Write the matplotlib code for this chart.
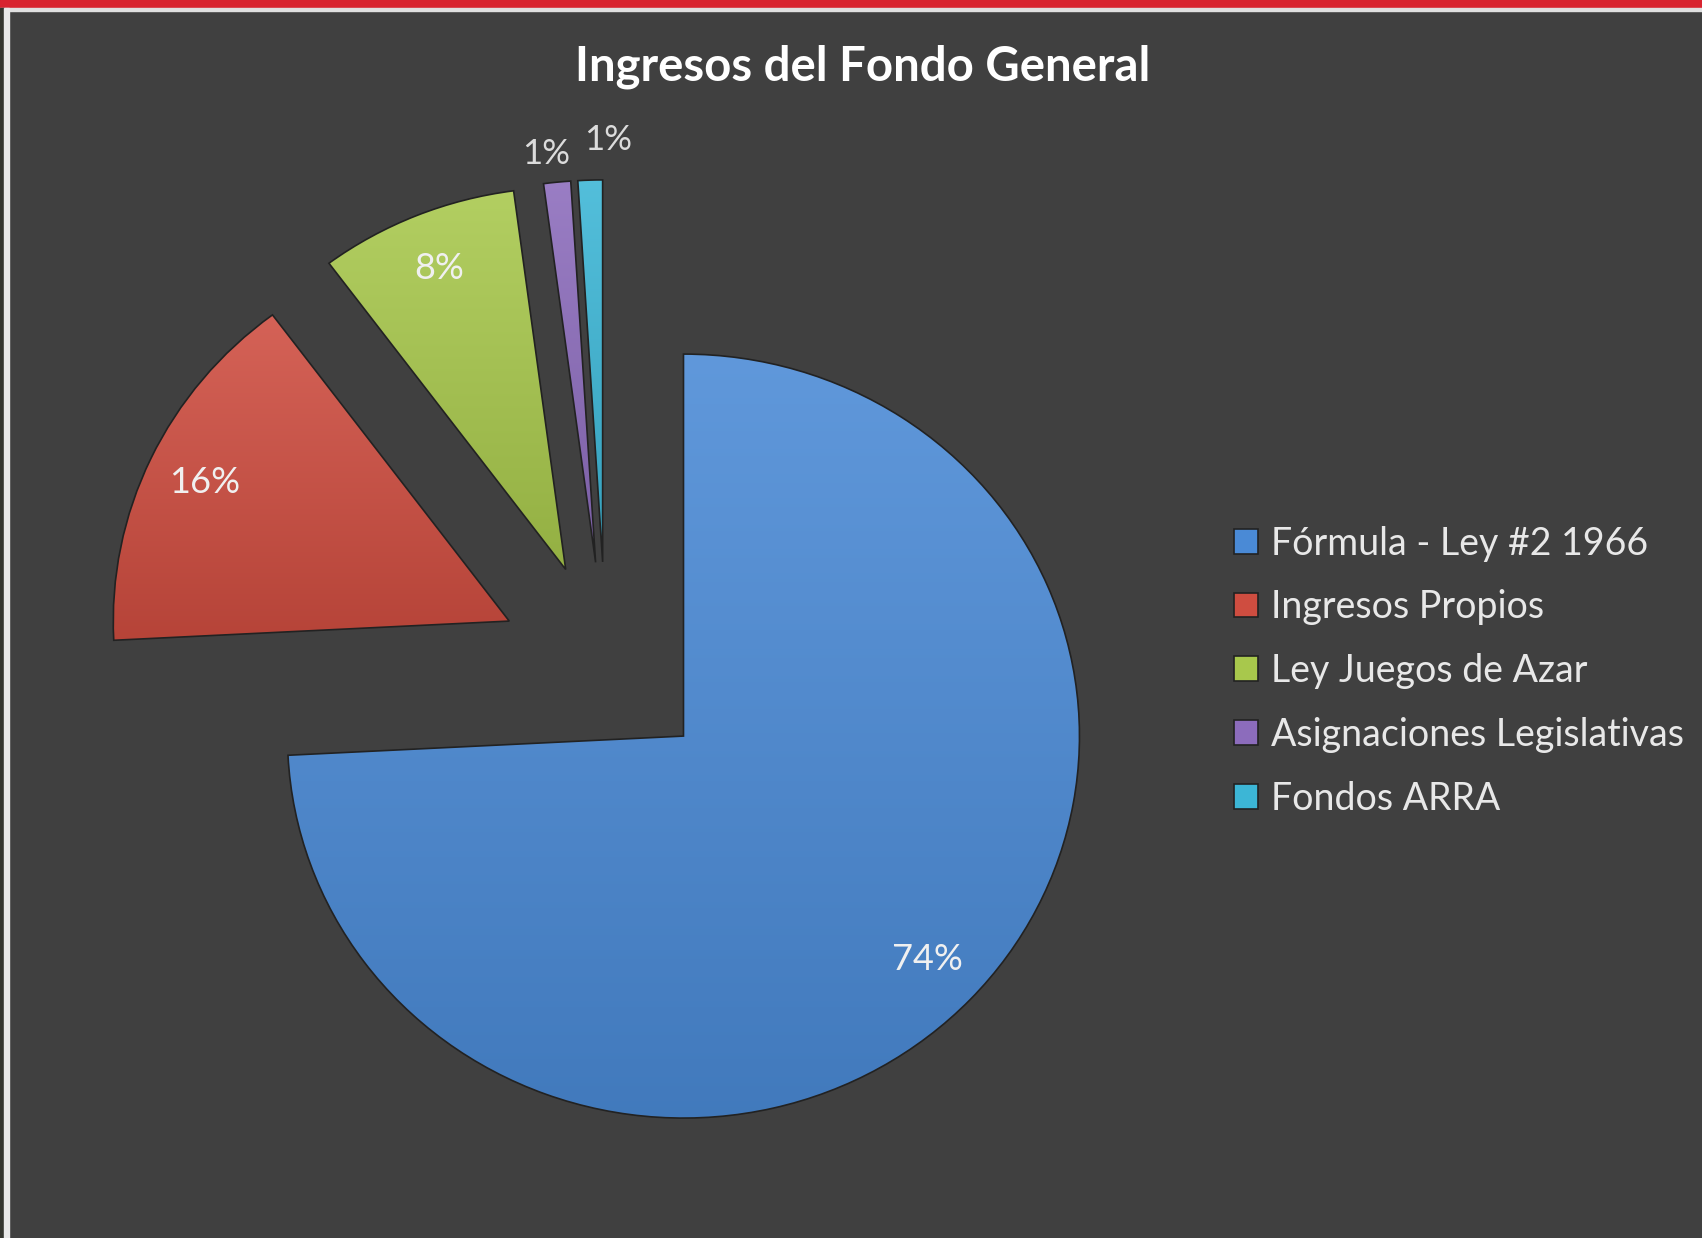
import numpy as np
import matplotlib.pyplot as plt
from matplotlib.colors import to_rgb
from matplotlib.patches import Rectangle

# data (percent of general fund revenue)
categories = ["Fórmula - Ley #2 1966", "Ingresos Propios", "Ley Juegos de Azar",
              "Asignaciones Legislativas", "Fondos ARRA"]
shares = [74.2, 15.6, 8.1, 1.1, 1.0]
colors = ["#4a8ad6", "#cf4d40", "#a8c84c", "#8c6cbc", "#3cb6d6"]
title = "Ingresos del Fondo General"

bg = "#404040"
txt = "#f0f0f0"
plt.rcParams['font.family'] = ['Lato', 'DejaVu Sans']

W, H = 1702, 1238
fig = plt.figure(figsize=(W / 100, H / 100), dpi=100, facecolor=bg)

# pie centre and radii in pixels (the original is slightly wider than tall)
cx, cy, rx, ry = 606, 665, 396, 382
ax = fig.add_axes([0, 0, 1, 1])
ax.set_facecolor("none")

wedges, texts, autotexts = ax.pie(
    shares, colors=colors, startangle=90, counterclock=False,
    explode=[0.27] * len(shares), autopct="%1.0f%%", pctdistance=0.85,
    wedgeprops=dict(edgecolor="#222222", linewidth=1.2),
    textprops=dict(color=txt, fontsize=26))

leg = fig.legend(wedges, categories, loc="center left",
                 bbox_to_anchor=(1200 / W, 1 - 671 / H), frameon=False,
                 fontsize=27, labelcolor="#e8e8e8", handlelength=0.64,
                 handleheight=0.64, handletextpad=0.35, labelspacing=0.74)

# soft vertical shading inside every slice; wedge keeps only its outline on top
for w, c in zip(wedges, colors):
    verts = w.get_path().vertices
    x0, y0 = verts.min(axis=0)
    x1, y1 = verts.max(axis=0)
    base = np.array(to_rgb(c))
    top = base + (1 - base) * 0.12
    bot = base * 0.88
    t = np.linspace(0, 1, 256)[:, None]
    grad = (top * (1 - t) + bot * t)[:, None, :]
    im = ax.imshow(grad, extent=(x0, x1, y0, y1), origin="upper",
                   aspect="auto", zorder=1.5)
    im.set_clip_path(w)
    w.set_facecolor("none")
    w.set_zorder(2)

# small slices get their label outside, split left / right
small = [i for i, w in enumerate(wedges) if w.theta2 - w.theta1 < 10]
for k, i in enumerate(small):
    w, t = wedges[i], autotexts[i]
    x0, y0 = w.center
    if k == 0:
        a, d, ha, dx = np.deg2rad(w.theta1), 1.03, "right", 0.0
    else:
        a, d, ha, dx = np.deg2rad(w.theta2), 1.065, "left", 0.02
    t.set_position((x0 + d * np.cos(a) + dx, y0 + d * np.sin(a)))
    t.set_ha(ha)
    t.set_va("bottom")
    t.set_color("#dcdcdc")
    t.set_fontsize(25)
for t in autotexts:
    t.set_zorder(4)

ax.set_xlim(-cx / rx, (W - cx) / rx)
ax.set_ylim(-(H - cy) / ry, cy / ry)
ax.set_aspect("auto")
ax.axis("off")

fig.text(863 / W, 1 - 67 / H, title, ha="center", va="center",
         color="white", fontsize=34, fontweight="bold")

# slide frame decoration
fig.patches.append(Rectangle((0, 1 - 8 / H), 1, 8 / H, transform=fig.transFigure,
                             color="#d8232f", zorder=5))
fig.patches.append(Rectangle((0, 1 - 11 / H), 1, 3 / H, transform=fig.transFigure,
                             color="#e0e0e0", zorder=5))
fig.patches.append(Rectangle((0, 0), 4 / W, 1 - 8 / H, transform=fig.transFigure,
                             color="#34352f", zorder=5))
fig.patches.append(Rectangle((4 / W, 0), 5 / W, 1 - 8 / H, transform=fig.transFigure,
                             color="#e8e8e8", zorder=5))

fig.savefig("out.png", dpi=100, facecolor=bg)
